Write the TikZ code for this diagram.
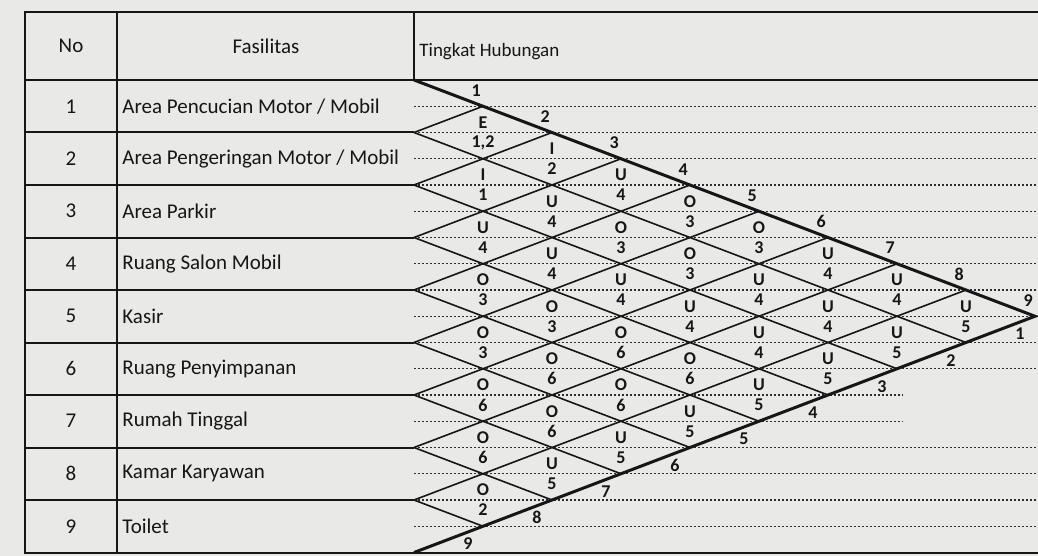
\documentclass[tikz,border=0pt]{standalone}
\usepackage{fontspec}
\setmainfont{Carlito}
\definecolor{paper}{RGB}{233,233,231}
\definecolor{ink}{RGB}{22,22,22}

\begin{document}
\begin{tikzpicture}[x=0.5pt,y=-0.5pt,
  frame/.style={line width=1pt,color=ink},
  grid line/.style={line width=0.8pt,color=ink},
  edge line/.style={line width=1.5pt,color=ink},
  dot line/.style={line width=0.65pt,color=ink!90,dash pattern=on 1.1pt off 0.9pt},
  cell/.style={font=\fontsize{10.5}{12}\selectfont,inner sep=0pt,text=ink},
  rel/.style={font=\fontsize{9}{9}\selectfont\bfseries,inner sep=0pt,text=ink}]

  \fill[paper] (0,0) rectangle (1038,556);
  \useasboundingbox (0,0) rectangle (1038,556);

  \def\xT{414} \def\dw{69} \def\yH{80} \def\rowh{52.5}

  % table frame
  \draw[frame] (1038,12) -- (25,12) -- (25,{\yH+9*\rowh}) -- (1038,{\yH+9*\rowh});
  \draw[frame] (117,12) -- (117,{\yH+9*\rowh});
  \draw[frame] (\xT,12) -- (\xT,\yH);
  \draw[frame] (25,\yH) -- (1038,\yH);
  \foreach \r in {1,...,8}
    \draw[frame] (25,{\yH+\r*\rowh}) -- (\xT,{\yH+\r*\rowh});

  \node[cell] (no) at (71,46) {No};
  \node[cell] (fasilitas) at (266,46) {Fasilitas};
  \node[cell,font=\fontsize{9.5}{10}\selectfont,anchor=west] (tingkat) at (419,52) {Tingkat Hubungan};

  \foreach \r/\name in {1/{Area Pencucian Motor / Mobil},2/{Area Pengeringan Motor / Mobil},
      3/Area Parkir,4/Ruang Salon Mobil,5/Kasir,6/Ruang Penyimpanan,
      7/Rumah Tinggal,8/Kamar Karyawan,9/Toilet} {
    \node[cell] (n\r) at (71,{\yH+(\r-0.5)*\rowh}) {\r};
    \node[cell,anchor=west] (f\r) at (122,{\yH+(\r-0.5)*\rowh}) {\name};
  }

  % dotted guide lines, two per row
  \foreach \k in {1,...,17} {
    \ifnum\k=12 \def\xe{903}\else\ifnum\k=13 \def\xe{903}\else\def\xe{1038}\fi\fi
    \draw[dot line] (\xT,{\yH+\k*\rowh/2}) -- (\xe,{\yH+\k*\rowh/2});
  }

  % diamond grid
  \coordinate (apex) at ({\xT+9*\dw},{\yH+4.5*\rowh});
  \foreach \i in {1,...,8} {
    \coordinate (tip\i) at (\xT,{\yH+\i*\rowh});
    \coordinate (top\i) at ({\xT+\i*\dw},{\yH+\i*\rowh/2});
    \coordinate (bot\i) at ({\xT+(9-\i)*\dw},{\yH+(9+\i)*\rowh/2});
    \draw[grid line] (tip\i) -- (top\i);
    \draw[grid line] (tip\i) -- (bot\i);
  }
  \draw[edge line] (\xT,\yH) -- (apex) -- (\xT,{\yH+9*\rowh});

  % relationship grade and reason
  \foreach \i/\j/\grade/\why in {
      1/2/E/{1,2},2/3/I/1,3/4/U/4,4/5/O/3,5/6/O/3,6/7/O/6,7/8/O/6,8/9/O/2,
      1/3/I/2,2/4/U/4,3/5/U/4,4/6/O/3,5/7/O/6,6/8/O/6,7/9/U/5,
      1/4/U/4,2/5/O/3,3/6/U/4,4/7/O/6,5/8/O/6,6/9/U/5,
      1/5/O/3,2/6/O/3,3/7/U/4,4/8/O/6,5/9/U/5,
      1/6/O/3,2/7/U/4,3/8/U/4,4/9/U/5,
      1/7/U/4,2/8/U/4,3/9/U/5,
      1/8/U/4,2/9/U/5,
      1/9/U/5} {
    \node[rel] (g\i\j) at ({\xT+(\j-\i)*\dw},{\yH+(\i+\j-1)*\rowh/2-10}) {\grade};
    \node[rel] (r\i\j) at ({\xT+(\j-\i)*\dw},{\yH+(\i+\j-1)*\rowh/2+10}) {\why};
  }

  % facility numbers along both edges
  \foreach \k in {1,...,9} {
    \node[rel] (t\k) at ({\xT+(\k-0.1)*\dw},{\yH+(\k-0.1)*\rowh/2-13}) {\k};
    \node[rel] (b\k) at ({\xT+(9.78-\k)*\dw},{\yH+9*\rowh-(9.78-\k)*\rowh/2+12}) {\k};
  }
\end{tikzpicture}
\end{document}
